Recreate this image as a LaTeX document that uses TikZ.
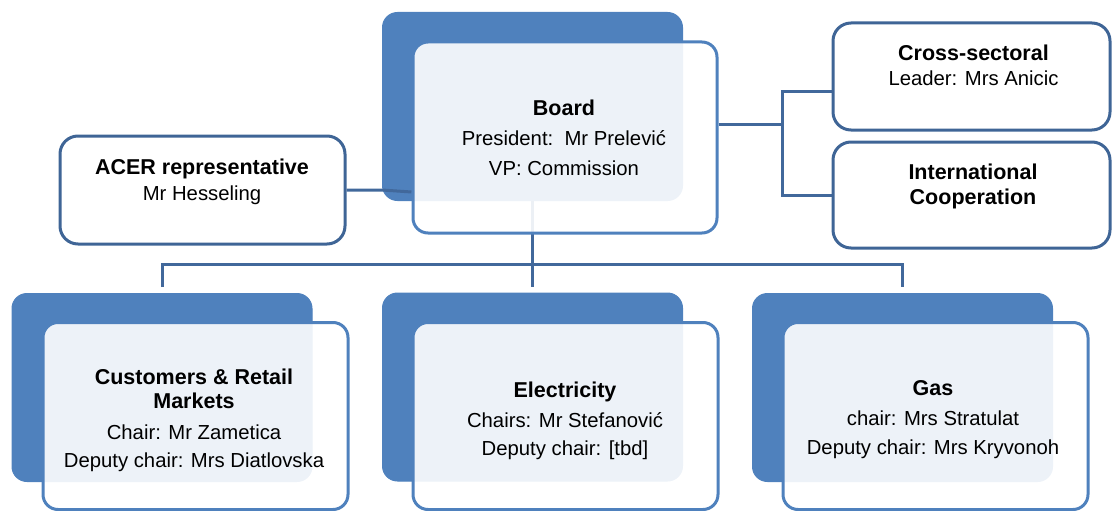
\documentclass[tikz,border=0pt]{standalone}
\usepackage{fontspec}
\setmainfont{Liberation Sans}
\definecolor{accent}{HTML}{4F81BD}
\definecolor{edge}{HTML}{3F6596}
\definecolor{wirec}{HTML}{41689B}
\pgfdeclarelayer{backl}
\pgfdeclarelayer{wirel}
\pgfsetlayers{backl,wirel,main}
\newcommand{\ttl}[1]{{\fontsize{21.5}{24}\selectfont\bfseries #1}}
\tikzset{
  backbox/.style={fill=accent, draw=accent, line width=1pt, rounded corners=15pt,
    inner sep=0pt, minimum width=300pt, minimum height=188pt},
  frontbox/.style={fill=white, fill opacity=0.9, text opacity=1, draw=accent,
    line width=3pt, rounded corners=15pt, inner sep=0pt,
    minimum width=305pt, minimum height=187pt},
  singlebox/.style={fill=white, draw=edge, line width=3pt, rounded corners=18pt, inner sep=0pt},
  txt/.style={align=center, font=\fontsize{20.3}{24}\selectfont, inner sep=0pt},
  wire/.style={draw=wirec, line width=3pt}
}
\begin{document}
\begin{tikzpicture}[x=1pt, y=-1pt]
\useasboundingbox (0,0) rectangle (1112,511);
% back boxes
\begin{pgfonlayer}{backl}
\node[backbox] (boardback) at (532.5,106.5) {};
\node[backbox] (custback) at (162,387.5) {};
\node[backbox] (elecback) at (532.5,387) {};
\node[backbox] (gasback) at (902.5,387.5) {};
\end{pgfonlayer}
% single boxes
\node[singlebox, minimum width=285pt, minimum height=108pt] (acer) at (202.5,190) {};
\node[singlebox, minimum width=277pt, minimum height=107pt] (cross) at (971.5,76.5) {};
\node[singlebox, minimum width=277pt, minimum height=106pt] (intl) at (971.5,195) {};
\node[txt] (acert) at (202,182) {\ttl{ACER representative}\\[2pt]Mr Hesseling};
\node[txt] (crosst) at (973.5,65.5) {\ttl{Cross-sectoral}\\[1pt]Leader: Mrs Anicic};
\node[txt] (intlt) at (973,186.5) {\ttl{International}\\[1pt]\ttl{Cooperation}};
% front boxes
\node[frontbox, minimum width=304pt, minimum height=191pt] (boardfront) at (565,137.5) {};
\node[frontbox] (custfront) at (195.5,416) {};
\node[frontbox] (elecfront) at (565.5,416) {};
\node[frontbox] (gasfront) at (935.5,416) {};
\node[txt] (boardt) at (564,138)
  {\ttl{Board}\\[6pt]President:~~Mr Prelević\\[6pt]VP: Commission};
\node[txt] (custt) at (194,420.5)
  {\ttl{Customers \& Retail}\\[0pt]\ttl{Markets}\\[7pt]Chair: Mr Zametica\\[4pt]Deputy chair: Mrs Diatlovska};
\node[txt] (elect) at (565,420.5)
  {\ttl{Electricity}\\[6pt]Chairs: Mr Stefanović\\[4pt]Deputy chair: [tbd]};
\node[txt] (gast) at (933,420)
  {\ttl{Gas}\\[6pt]chair: Mrs Stratulat\\[5pt]Deputy chair: Mrs Kryvonoh};
% connectors
\begin{pgfonlayer}{wirel}
\coordinate (bus) at (532,264);
\coordinate (rj) at (782,124);
\draw[wire] (boardback.south) -- ([yshift=6pt]elecback.north);
\draw[wire] ([yshift=6pt]custback.north) |- (bus) -| ([yshift=6pt]gasback.north);
\draw[wire] (acer.east) -- (acer.east -| boardback.west) -- (boardfront.west |- 0,192);
\draw[wire] ([yshift=13.5pt]boardfront.east) -- (rj);
\draw[wire] ([yshift=-15.5pt]cross.west) -| (rj) |- (intl.west);
\end{pgfonlayer}
\end{tikzpicture}
\end{document}
